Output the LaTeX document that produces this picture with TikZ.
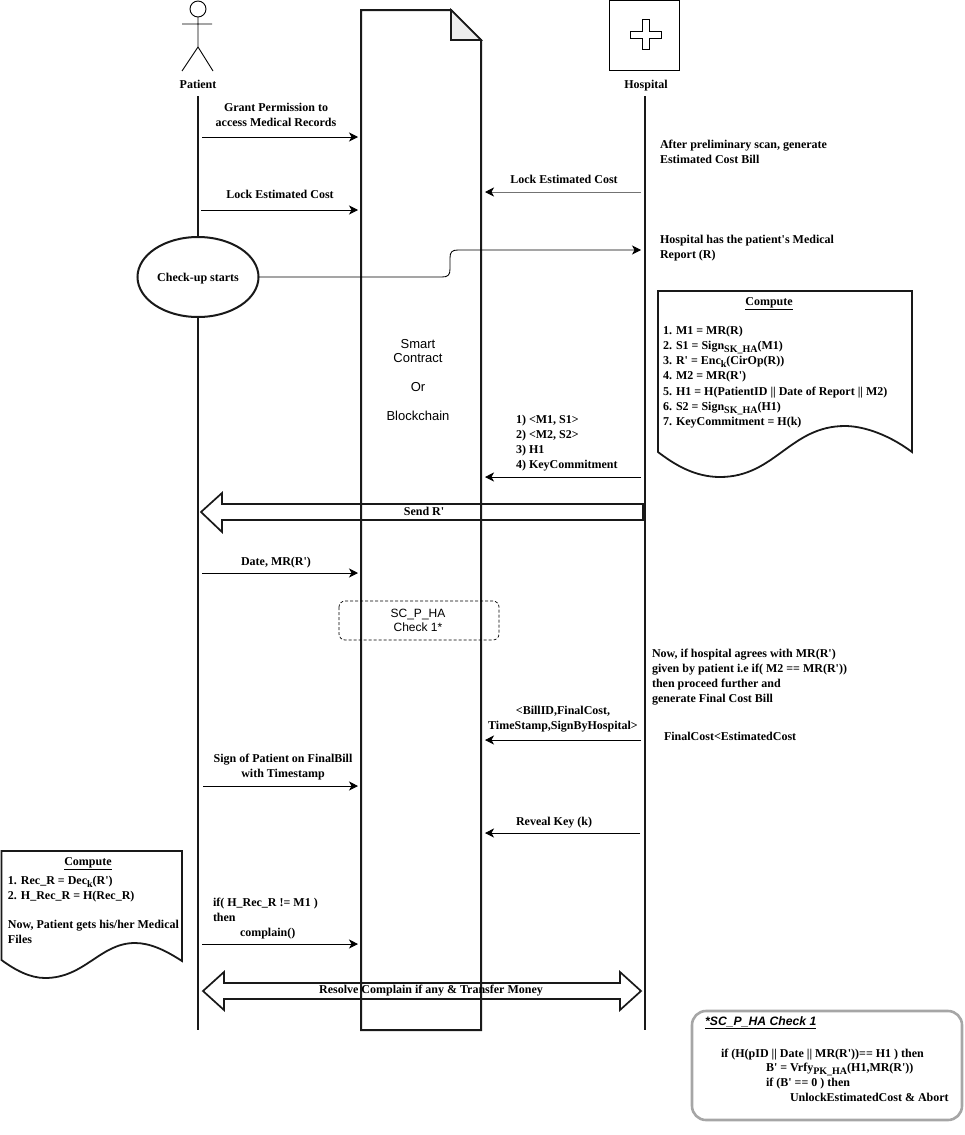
\documentclass[tikz,border=0pt]{standalone}
\usepackage{fontspec}
\setmainfont[Ligatures=TeXOff]{Liberation Serif}
\setsansfont{Liberation Sans}
\usetikzlibrary{arrows.meta,shapes.geometric}
\tikzset{
  lbl/.style={inner sep=0pt,outer sep=0pt,align=center,font=\fontsize{12}{15}\selectfont\bfseries},
  lft/.style={lbl,align=left,anchor=west},
  sanslbl/.style={inner sep=0pt,align=center,font=\fontsize{13}{14}\selectfont\sffamily},
  sansbox/.style={inner sep=0pt,align=center,font=\fontsize{12}{14}\selectfont\sffamily},
  life/.style={draw=black!90,line width=2pt},
  heavy/.style={draw=black!90,line width=2pt,line join=miter},
  msg/.style={draw=black,line width=0.85pt,-{Stealth[length=9pt,width=9pt,inset=2.5pt,color=black]}},
  thinmark/.style={line width=0.9pt},
  bigarrow/.style={draw=black!90,line width=1.7pt,line join=miter},
  compdoc/.style={draw=black!90,line width=1.8pt,fill=white}
}
\newcommand{\sbs}[1]{\raisebox{-3pt}{\fontsize{10}{10}\selectfont #1}}
\begin{document}
\begin{tikzpicture}[x=1pt,y=-1pt]
\useasboundingbox (0,0) rectangle (964,1135);
% lifelines
\coordinate (ptop) at (198,96);
\coordinate (pbot) at (198,1030);
\coordinate (htop) at (645,96);
\coordinate (hbot) at (645,1030);
\draw[life] (htop) -- (hbot);
\draw[life] (ptop) -- (pbot);
% smart contract document
\path[heavy] (361,10) -- (451,10) -- (481,40) -- (481,1030) -- (361,1030) -- cycle;
\draw[heavy,line width=1.6pt,fill=black!7] (451,10) -- (451,40) -- (481,40) -- cycle;
\node[sanslbl] (sc1) at (418,351) {Smart\\Contract};
\node[sanslbl] (sc2) at (418,387) {Or};
\node[sanslbl] (sc3) at (418,416) {Blockchain};
% actor
\draw[thinmark] (198,9) circle (8);
\draw[thinmark] (198,17) -- (198,47) (182,24) -- (212,24) (182,71) -- (198,47) -- (213,71);
\node[lbl] (patient) at (198,84) {Patient};
% hospital
\draw[thinmark] (609,0.6) rectangle (679,70);
\draw[thinmark] (642,19) -- (649,19) -- (649,31) -- (661,31) -- (661,38) -- (649,38) -- (649,49) -- (642,49) -- (642,38) -- (630,38) -- (630,31) -- (642,31) -- cycle;
\node[lbl] (hospital) at (646,86) {Hospital};
% check-up
\node[lbl,draw=black!90,line width=2pt,fill=white,ellipse,minimum width=121pt,minimum height=80pt,text height=8pt,text depth=0pt] (checkup) at (198,277) {Check-up starts};
% messages
\coordinate (a1) at (202,137); \coordinate (a2) at (358,137);
\draw[msg] (a1) -- (a2);
\node[lbl] (t1) at (276,115) {Grant Permission to\\access Medical Records};
\coordinate (b1) at (641,192); \coordinate (b2) at (485,192);
\draw[msg,draw=black!55] (b1) -- (b2);
\node[lbl] (t2) at (564,179) {Lock Estimated Cost};
\coordinate (c1) at (201,210); \coordinate (c2) at (358,210);
\draw[msg] (c1) -- (c2);
\node[lbl] (t3) at (280,194) {Lock Estimated Cost};
\coordinate (d2) at (641,250);
\draw[msg] (checkup.east) -- (442,277) .. controls (448,277) and (450,275) .. (450,269) -- (450,258) .. controls (450,252) and (452,250) .. (458,250) -- (d2);
\node[lft] (t4) at (660,151.5) {After preliminary scan, generate\\Estimated Cost Bill};
\node[lft] (t5) at (660,248) {Hospital has the patient's Medical\\Report (R)};
% compute hospital
\draw[compdoc] (658,291) -- (912,291) -- (912,452) .. controls (885,432) and (860,426) .. (845,426) .. controls (790,426) and (775,477) .. (720,477) .. controls (695,477) and (675,465) .. (658,452) -- cycle;
\node[lbl] (t6) at (769,304) {\underline{Compute}};
\node[lft,font=\fontsize{12}{15.2}\selectfont\bfseries] (t7) at (663,377) {1. M1 = MR(R)\\2. S1 = Sign\sbs{SK\_HA}(M1)\\3. R' = Enc\sbs{k}(CirOp(R))\\4. M2 = MR(R')\\5. H1 = H(PatientID || Date of Report || M2)\\6. S2 = Sign\sbs{SK\_HA}(H1)\\7. KeyCommitment = H(k)};
\coordinate (e1) at (641,477); \coordinate (e2) at (485,477);
\draw[msg] (e1) -- (e2);
\node[lft] (t8) at (516,443.5) {1) <M1, S1>\\2) <M2, S2>\\3) H1\\4) KeyCommitment};
% send R'
\draw[bigarrow] (643,504) -- (222,504) -- (222,493) -- (201,512) -- (222,532) -- (222,520) -- (643,520) -- cycle;
\node[lbl] (t9) at (424,511) {Send R'};
\coordinate (f1) at (202,573); \coordinate (f2) at (358,573);
\draw[msg] (f1) -- (f2);
\node[lbl] (t10) at (276,563) {Date, MR(R')};
\draw[draw=black,line width=0.7pt,dash pattern=on 3pt off 2pt,rounded corners=6pt] (339,601) rectangle (499,640);
\node[sansbox] (t11) at (418,620) {SC\_P\_HA\\Check 1*};
\node[lft] (t12) at (652,677) {Now, if hospital agrees with MR(R')\\given by patient i.e if( M2 == MR(R'))\\then proceed further and\\generate Final Cost Bill};
\coordinate (g1) at (641,740); \coordinate (g2) at (485,740);
\draw[msg] (g1) -- (g2);
\node[lbl] (t13) at (563,719) {<BillID,FinalCost,\\TimeStamp,SignByHospital>};
\node[lft] (t14) at (664,736) {FinalCost<EstimatedCost};
\coordinate (h1) at (203,786); \coordinate (h2) at (358,786);
\draw[msg] (h1) -- (h2);
\node[lbl] (t15) at (283,767) {Sign of Patient on FinalBill\\with Timestamp};
\coordinate (i1) at (640,833); \coordinate (i2) at (485,833);
\draw[msg] (i1) -- (i2);
\node[lbl] (t16) at (554,823) {Reveal Key (k)};
% compute patient
\draw[compdoc] (1.5,851) -- (182,851) -- (182,961) .. controls (165,950) and (150,943) .. (135,943) .. controls (100,943) and (85,978) .. (45,978) .. controls (30,978) and (15,970) .. (1.5,960) -- cycle;
\node[lbl] (t17) at (88,864) {\underline{Compute}};
\node[lft] (t18) at (8,910) {1. Rec\_R = Dec\sbs{k}(R')\\2. H\_Rec\_R = H(Rec\_R)\\[14pt]Now, Patient gets his/her Medical\\Files};
\node[lft] (t19) at (213,918.5) {if( H\_Rec\_R != M1 )\\then\\\hspace*{27pt}complain()};
\coordinate (j1) at (202,944); \coordinate (j2) at (358,944);
\draw[msg] (j1) -- (j2);
% double arrow
\draw[bigarrow] (203,991) -- (224,972) -- (224,983) -- (620,983) -- (620,972) -- (641,991) -- (620,1010) -- (620,999) -- (224,999) -- (224,1010) -- cycle;
\node[lbl] (t20) at (431,991) {Resolve Complain if any \& Transfer Money};
% check box
\draw[draw=black!35,line width=2.6pt,rounded corners=14pt] (692,1011) rectangle (962,1120);
\node[inner sep=0pt,anchor=west,font=\fontsize{12.2}{15}\selectfont\sffamily\bfseries\itshape] (t21) at (705,1023) {\underline{*SC\_P\_HA Check 1}};
\node[lft,font=\fontsize{12}{14.6}\selectfont\bfseries] (t22) at (721,1075) {if (H(pID || Date || MR(R'))== H1 ) then\\\hspace*{45pt}B' = Vrfy\sbs{PK\_HA}(H1,MR(R'))\\\hspace*{45pt}if (B' == 0 ) then\\\hspace*{69pt}UnlockEstimatedCost \& Abort};
\end{tikzpicture}
\end{document}
